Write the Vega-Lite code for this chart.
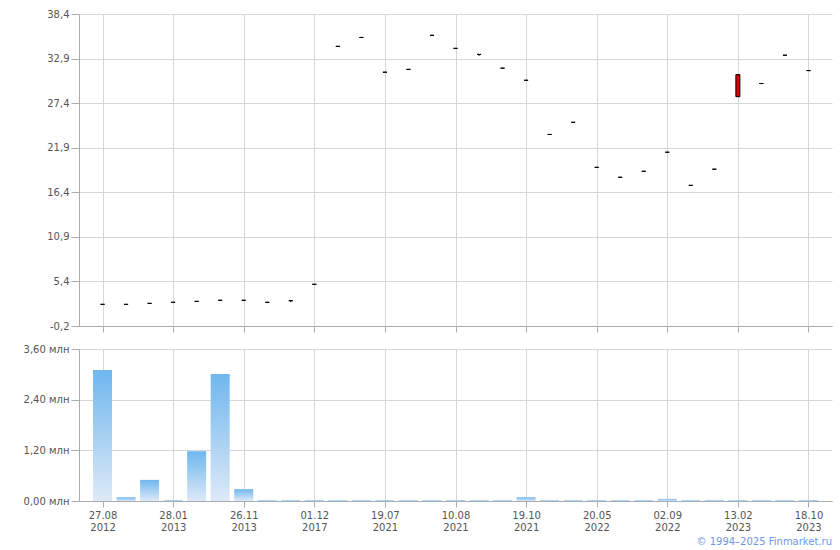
{
  "$schema": "https://vega.github.io/schema/vega-lite/v6.json",
  "padding": {"left": 23, "top": 9, "right": 5, "bottom": 4},
  "background": "white",
  "config": {
    "font": "DejaVu Sans",
    "view": {"stroke": null},
    "axis": {
      "labelFont": "DejaVu Sans", "labelFontSize": 10, "labelColor": "#555555",
      "gridColor": "#d3d7db", "gridWidth": 1, "gridOpacity": 1,
      "domainColor": "#a9adb1", "tickColor": "#a9adb1", "title": null
    }
  },
  "title": {"text": "© 1994–2025 Finmarket.ru", "orient": "bottom", "anchor": "end", "fontSize": 10, "fontWeight": "normal", "color": "#6f97e6", "font": "DejaVu Sans", "offset": 5},
  "datasets": {
    "ohlc": [
      {"d": "27.08.2012", "open": 2.48, "close": 2.48, "high": 2.48, "low": 2.48, "vol": 3.10},
      {"d": "24.09.2012", "open": 2.48, "close": 2.48, "high": 2.48, "low": 2.48, "vol": 0.09},
      {"d": "26.11.2012", "open": 2.6, "close": 2.6, "high": 2.6, "low": 2.6, "vol": 0.50},
      {"d": "28.01.2013", "open": 2.73, "close": 2.73, "high": 2.73, "low": 2.73, "vol": 0.02},
      {"d": "20.05.2013", "open": 2.85, "close": 2.85, "high": 2.85, "low": 2.85, "vol": 1.18},
      {"d": "26.08.2013", "open": 2.98, "close": 2.98, "high": 2.98, "low": 2.98, "vol": 3.01},
      {"d": "26.11.2013", "open": 2.98, "close": 2.98, "high": 2.98, "low": 2.98, "vol": 0.28},
      {"d": "24.02.2014", "open": 2.73, "close": 2.73, "high": 2.73, "low": 2.73, "vol": 0.02},
      {"d": "15.06.2015", "open": 2.93, "close": 2.93, "high": 2.93, "low": 2.75, "vol": 0.02},
      {"d": "01.12.2017", "open": 4.96, "close": 4.96, "high": 4.96, "low": 4.96, "vol": 0.02},
      {"d": "22.03.2021", "open": 34.4, "close": 34.4, "high": 34.4, "low": 34.4, "vol": 0.02},
      {"d": "24.05.2021", "open": 35.5, "close": 35.5, "high": 35.5, "low": 35.5, "vol": 0.02},
      {"d": "19.07.2021", "open": 31.2, "close": 31.2, "high": 31.2, "low": 31.2, "vol": 0.02},
      {"d": "26.07.2021", "open": 31.55, "close": 31.55, "high": 31.55, "low": 31.55, "vol": 0.02},
      {"d": "02.08.2021", "open": 35.76, "close": 35.76, "high": 35.76, "low": 35.76, "vol": 0.02},
      {"d": "10.08.2021", "open": 34.15, "close": 34.15, "high": 34.15, "low": 34.15, "vol": 0.02},
      {"d": "17.08.2021", "open": 33.4, "close": 33.4, "high": 33.4, "low": 33.22, "vol": 0.02},
      {"d": "30.08.2021", "open": 31.7, "close": 31.7, "high": 31.7, "low": 31.7, "vol": 0.02},
      {"d": "19.10.2021", "open": 30.2, "close": 30.2, "high": 30.2, "low": 30.2, "vol": 0.09},
      {"d": "10.01.2022", "open": 23.5, "close": 23.5, "high": 23.5, "low": 23.5, "vol": 0.02},
      {"d": "01.03.2022", "open": 25.0, "close": 25.0, "high": 25.0, "low": 25.0, "vol": 0.02},
      {"d": "20.05.2022", "open": 19.43, "close": 19.43, "high": 19.43, "low": 19.43, "vol": 0.02},
      {"d": "14.06.2022", "open": 18.2, "close": 18.2, "high": 18.2, "low": 18.2, "vol": 0.02},
      {"d": "28.07.2022", "open": 18.94, "close": 18.94, "high": 18.94, "low": 18.94, "vol": 0.02},
      {"d": "02.09.2022", "open": 21.3, "close": 21.3, "high": 21.3, "low": 21.3, "vol": 0.05},
      {"d": "11.10.2022", "open": 17.2, "close": 17.2, "high": 17.2, "low": 17.2, "vol": 0.02},
      {"d": "06.12.2022", "open": 19.2, "close": 19.2, "high": 19.2, "low": 19.2, "vol": 0.02},
      {"d": "13.02.2023", "open": 30.9, "close": 28.17, "high": 30.9, "low": 28.17, "vol": 0.02},
      {"d": "19.04.2023", "open": 29.8, "close": 29.8, "high": 29.8, "low": 29.8, "vol": 0.02},
      {"d": "04.07.2023", "open": 33.3, "close": 33.3, "high": 33.3, "low": 33.3, "vol": 0.02},
      {"d": "18.10.2023", "open": 31.4, "close": 31.4, "high": 31.4, "low": 31.4, "vol": 0.02}
    ]
  },
  "vconcat": [
    {
      "width": 753,
      "height": 312,
      "data": {"name": "ohlc"},
      "encoding": {
        "x": {
          "field": "d", "type": "ordinal", "sort": null,
          "scale": {"type": "point", "padding": 1},
          "axis": {
            "values": ["27.08.2012", "28.01.2013", "26.11.2013", "01.12.2017", "19.07.2021", "10.08.2021", "19.10.2021", "20.05.2022", "02.09.2022", "13.02.2023", "18.10.2023"],
            "labels": false, "tickSize": 6, "grid": true
          }
        }
      },
      "layer": [
        {
          "mark": {"type": "rule", "color": "black", "strokeWidth": 1},
          "encoding": {
            "y": {"field": "low", "type": "quantitative",
              "scale": {"domain": [-0.2, 38.4], "nice": false, "zero": false},
              "axis": {
                "values": [-0.2, 5.3143, 10.8286, 16.3429, 21.8571, 27.3714, 32.8857, 38.4],
                "labelExpr": "['-0,2','5,4','10,9','16,4','21,9','27,4','32,9','38,4'][round((datum.value+0.2)/5.5143)]",
                "tickSize": 8, "labelPadding": 2, "grid": true
              }
            },
            "y2": {"field": "high"}
          }
        },
        {
          "mark": {"type": "bar", "size": 4, "stroke": "black", "strokeWidth": 1},
          "encoding": {
            "y": {"field": "open", "type": "quantitative"},
            "y2": {"field": "close"},
            "fill": {
              "condition": {"test": "datum.open > datum.close", "value": "#dd0000"},
              "value": "white"
            }
          }
        }
      ]
    },
    {
      "width": 753,
      "height": 152,
      "data": {"name": "ohlc"},
      "mark": {
        "type": "bar", "size": 19,
        "color": {
          "gradient": "linear", "x1": 0, "y1": 1, "x2": 0, "y2": 0,
          "stops": [{"offset": 0, "color": "#dde9f7"}, {"offset": 1, "color": "#6fb7ee"}]
        }
      },
      "encoding": {
        "x": {
          "field": "d", "type": "ordinal", "sort": null,
          "scale": {"type": "point", "padding": 1},
          "axis": {
            "values": ["27.08.2012", "28.01.2013", "26.11.2013", "01.12.2017", "19.07.2021", "10.08.2021", "19.10.2021", "20.05.2022", "02.09.2022", "13.02.2023", "18.10.2023"],
            "labelExpr": "[slice(datum.value,0,5), slice(datum.value,6)]",
            "labelAngle": 0, "labelLineHeight": 12, "labelPadding": 3,
            "tickSize": 6, "grid": true
          }
        },
        "y": {
          "field": "vol", "type": "quantitative",
          "scale": {"domain": [0, 3.6], "nice": false},
          "axis": {
            "values": [0, 1.2, 2.4, 3.6],
            "labelExpr": "replace(format(datum.value, '.2f'), '.', ',') + ' млн'",
            "tickSize": 8, "labelPadding": 2, "grid": true
          }
        }
      }
    }
  ],
  "spacing": 11
}
